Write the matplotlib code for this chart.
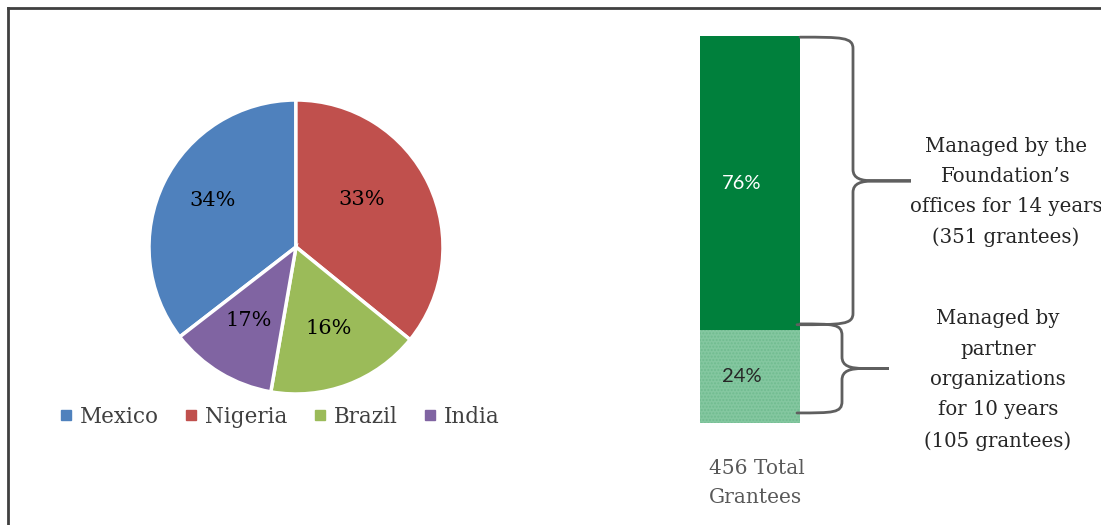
import numpy as np
import matplotlib
matplotlib.use('Agg')
import matplotlib.pyplot as plt
from matplotlib.path import Path
from matplotlib.patches import PathPatch
from matplotlib.lines import Line2D

# pie data (slice sizes as drawn, labels as printed)
countries = ['Mexico', 'Nigeria', 'Brazil', 'India']
pie_share = [35.5, 35.9, 16.9, 11.8]
pie_labels = ['34%', '33%', '16%', '17%']
pie_colors = ['#4F81BD', '#C0504D', '#9BBB59', '#8064A2']

# stacked bar data
bar_parts = [24, 76]
bar_labels = ['24%', '76%']
brace_spans = [(25.4, 99.7), (2.6, 25.6)]
brace_texts = ["Managed by the\nFoundation\u2019s\noffices for 14 years\n(351 grantees)",
               "Managed by\npartner\norganizations\nfor 10 years\n(105 grantees)"]

W, H = 1101, 525
fig = plt.figure(figsize=(W / 100, H / 100), dpi=100)
serif = 'DejaVu Serif'

def px(x0, y0, w, h):
    return [x0 / W, 1 - (y0 + h) / H, w / W, h / H]

# ---- pie ----
ax = fig.add_axes(px(149, 100, 294, 294))
wedges, texts = ax.pie(pie_share, labels=pie_labels, colors=pie_colors,
                       startangle=90 - 232.3, counterclock=False,
                       labeldistance=0.63,
                       wedgeprops=dict(edgecolor='white', linewidth=2.5))
for t in texts:
    t.set_ha('center')
    t.set_va('baseline')
    t.set_fontsize(15)
    t.set_family(serif)
    t.set_color('black')
# Nigeria label sits a little closer to the centre in the original
x, y = texts[1].get_position()
texts[1].set_position((x * 0.78, y * 1.05))
ax.set_xlim(-1, 1)
ax.set_ylim(-1, 1)
ax.set_aspect('equal')

handles = [Line2D([], [], marker='s', ls='', color=c, markersize=7) for c in pie_colors]
fig.legend(handles, countries, loc='center', bbox_to_anchor=(280 / W, 1 - 417 / H),
           ncol=4, frameon=False, handlelength=0.5, handletextpad=0.4,
           columnspacing=1.25, prop=dict(family=serif, size=15.5), labelcolor='#404040')

# ---- stacked bar ----
bx = fig.add_axes(px(700, 36, 100, 387))
bx.bar(0, bar_parts[0], width=1, align='edge', color='#84C7A0',
       hatch='.....', edgecolor='#70BC90', linewidth=0)
bx.bar(0, bar_parts[1], bottom=bar_parts[0], width=1, align='edge',
       color='#00803C', linewidth=0)
bx.text(0.42, bar_parts[0] / 2, bar_labels[0], ha='center', va='center',
        family='Lato', fontsize=14.5, color='#262626')
bx.text(0.42, bar_parts[0] + bar_parts[1] / 2, bar_labels[1], ha='center', va='center',
        family='Lato', fontsize=14.5, color='white')
bx.set_xlim(0, 1)
bx.set_ylim(0, 100)
bx.axis('off')

def brace(y0, y1, xv, xtip, x0=1.0, ry=3.0):
    ym = (y0 + y1) / 2
    verts = [(x0, y1),
             (x0 + 0.8 * (xv - x0), y1), (xv, y1), (xv, y1 - ry),
             (xv, ym + ry),
             (xv, ym + ry * 0.2), (xv + 0.08, ym), (xv + 0.22, ym),
             (xtip, ym),
             (xv + 0.22, ym),
             (xv + 0.08, ym), (xv, ym - ry * 0.2), (xv, ym - ry),
             (xv, y0 + ry),
             (xv, y0), (x0 + 0.8 * (xv - x0), y0), (x0 - 0.03, y0)]
    codes = [Path.MOVETO, Path.CURVE4, Path.CURVE4, Path.CURVE4, Path.LINETO,
             Path.CURVE4, Path.CURVE4, Path.CURVE4, Path.LINETO, Path.LINETO,
             Path.CURVE4, Path.CURVE4, Path.CURVE4, Path.LINETO,
             Path.CURVE4, Path.CURVE4, Path.CURVE4]
    bx.add_patch(PathPatch(Path(verts, codes), fill=False, edgecolor='#5F5F5F',
                           lw=2, clip_on=False, capstyle='round'))
    return ym

brace(brace_spans[0][0], brace_spans[0][1], 1.53, 2.11)
brace(brace_spans[1][0], brace_spans[1][1], 1.42, 1.89)

fig.text(1006 / W, 1 - 192 / H, brace_texts[0], ha='center', va='center',
         family=serif, fontsize=14.2, color='#262626', linespacing=1.75)
fig.text(998 / W, 1 - 380 / H, brace_texts[1], ha='center', va='center',
         family=serif, fontsize=14.2, color='#262626', linespacing=1.75)
fig.text(709 / W, 1 - 483 / H, "456 Total\nGrantees", ha='left', va='center',
         family=serif, fontsize=14.5, color='#595959', linespacing=1.7)

# outer frame (left and top edges visible)
fig.add_artist(Line2D([7.5 / W, 7.5 / W], [0, 1 - 7.5 / H], color='#404040', lw=2,
                      transform=fig.transFigure))
fig.add_artist(Line2D([7.5 / W, 1], [1 - 7.5 / H, 1 - 7.5 / H], color='#404040', lw=2,
                      transform=fig.transFigure))

fig.savefig('out.png', dpi=100)
